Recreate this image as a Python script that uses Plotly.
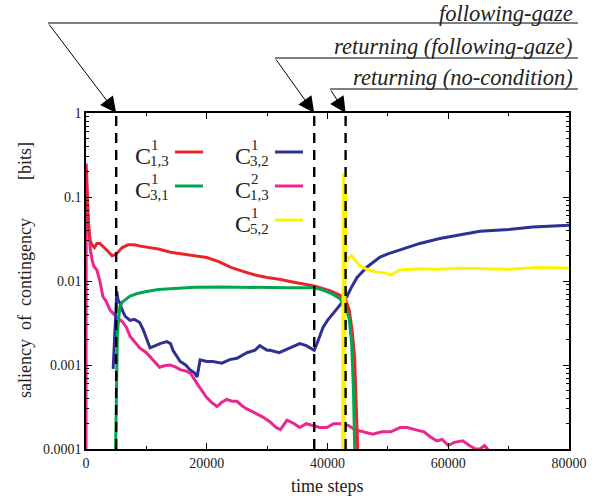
import plotly.graph_objects as go

# ---------------- data ----------------
red_x = [0, 200, 400, 700, 1000, 1400, 1800, 2300, 2800, 3300, 3800, 4300, 4800, 5300, 6000, 7000,
         8000, 9000, 10500, 12000, 14000, 16000, 18000, 20000, 22000, 24000, 26000, 28000, 30000,
         32000, 34000, 36000, 37800, 39000, 40500, 42000, 43000, 43600, 44100, 44500, 44800, 45000]
red_y = [0.22, 0.1, 0.045, 0.03, 0.027, 0.025, 0.028, 0.028, 0.026, 0.024, 0.022, 0.020, 0.0205, 0.022,
         0.025, 0.027, 0.027, 0.026, 0.025, 0.024, 0.022, 0.021, 0.020, 0.019, 0.017, 0.0145, 0.013,
         0.0118, 0.011, 0.0105, 0.0098, 0.0092, 0.0087, 0.0082, 0.0076, 0.0068, 0.006, 0.0045, 0.0025,
         0.0012, 0.0003, 0.0001]

green_x = [4900, 5000, 5100, 5200, 5400, 5600, 6000, 6500, 7300, 8500, 10000, 12000, 15000, 18000,
           22000, 26000, 30000, 34000, 37800, 39000, 40500, 42000, 43000, 43600, 44000, 44300, 44500]
green_y = [0.0001, 0.0004, 0.0012, 0.0024, 0.0035, 0.0049, 0.0056, 0.006, 0.0066, 0.0071, 0.0075,
           0.0079, 0.0082, 0.0084, 0.0085, 0.0084, 0.0083, 0.0083, 0.0083, 0.0079, 0.0072, 0.0062,
           0.005, 0.0035, 0.0018, 0.0005, 0.0001]

blue_x = [4500, 4700, 4900, 5100, 5300, 5600, 6000, 6500, 7300, 8000, 8900, 9500, 10100, 10600, 11500,
          12250, 13400, 14000, 14400, 15000, 15600, 16500, 17200, 18000, 18400, 18900, 20000, 21000,
          22500, 23800, 25000, 26650, 28000, 28800, 30000, 30500, 32000, 33800, 35400, 36500, 37800,
          38500, 39250, 40000, 40900, 42000, 43200, 44000, 44900, 46500, 48700, 50000, 52000, 55300,
          58600, 61900, 65250, 70000, 74000, 80000]
blue_y = [0.0009, 0.002, 0.004, 0.0075, 0.006, 0.0055, 0.0045, 0.0038, 0.0034, 0.0035, 0.0032, 0.0026,
          0.002, 0.0016, 0.0017, 0.0018, 0.0019, 0.0018, 0.0015, 0.0013, 0.0011, 0.001, 0.00088, 0.0008,
          0.00072, 0.00115, 0.0011, 0.0011, 0.00105, 0.00116, 0.0012, 0.0014, 0.0015, 0.0017, 0.0015,
          0.0015, 0.0014, 0.0016, 0.0018, 0.0017, 0.0015, 0.002, 0.0028, 0.0034, 0.0041, 0.0052, 0.0065,
          0.0085, 0.011, 0.0146, 0.0193, 0.021, 0.0234, 0.028, 0.032, 0.035, 0.039, 0.041, 0.044, 0.046]

pink_x = [0, 50, 150, 300, 500, 700, 1000, 1300, 1800, 2300, 2800, 3300, 4000, 4700, 5300, 6000, 6700,
          7300, 8000, 8900, 10000, 11100, 12200, 13000, 13900, 14800, 15600, 16500, 17300, 18400, 19200,
          20000, 20800, 21700, 22500, 23300, 24200, 25000, 25800, 26650, 27500, 28500, 29300, 30500,
          31500, 32200, 33300, 34500, 35400, 36500, 37600, 38700, 39900, 41000, 42400, 43500, 44500,
          46000, 47500, 49000, 50500, 52000, 53200, 54500, 56000, 57000, 58100, 59000, 60000, 61000,
          62400, 63500, 64500, 65250, 66000, 66500, 67000]
pink_y = [0.0001, 0.25, 0.15, 0.07, 0.04, 0.024, 0.018, 0.015, 0.0135, 0.01, 0.0065, 0.0058, 0.0045,
          0.004, 0.0036, 0.0033, 0.0028, 0.0022, 0.0019, 0.0016, 0.0014, 0.00116, 0.00094, 0.00098,
          0.001, 0.00095, 0.00088, 0.00085, 0.0008, 0.0006, 0.0005, 0.00041, 0.00036, 0.00032, 0.00036,
          0.00039, 0.00037, 0.00037, 0.00033, 0.0003, 0.00028, 0.00026, 0.00024, 0.00021, 0.00018,
          0.00017, 0.00022, 0.0002, 0.00018, 0.0002, 0.00019, 0.00018, 0.00018, 0.0002, 0.0002, 0.00019,
          0.00017, 0.00016, 0.00015, 0.00016, 0.00016, 0.00018, 0.00018, 0.00017, 0.00016, 0.00014,
          0.000125, 0.00013, 0.00011, 0.00012, 0.000125, 0.00011, 0.0001, 0.0001, 0.00011, 0.0001, 0.00009]

yellow_x = [42500, 42650, 42800, 42950, 43050, 43200, 43500, 44000, 44500, 45200, 46500, 48000, 49500,
            50500, 52000, 55000, 58000, 62000, 66000, 70000, 75000, 80000]
yellow_y = [0.0001, 0.19, 0.0001, 0.12, 0.02, 0.017, 0.019, 0.02, 0.018, 0.0155, 0.0138, 0.0128, 0.0125,
            0.0118, 0.0135, 0.014, 0.0138, 0.0142, 0.014, 0.0138, 0.0145, 0.0143]

series_sup = ["1", "1", "1", "2", "1"]
series_sub = ["1,3", "3,1", "3,2", "1,3", "5,2"]

event_steps = [5000, 37800, 43000]
event_labels = ["following-gaze", "returning (following-gaze)", "returning (no-condition)"]

x_ticks = [0, 20000, 40000, 60000, 80000]
y_ticks = [0.0001, 0.001, 0.01, 0.1, 1]
y_ticktext = ["0.0001", "0.001", "0.01", "0.1", "1"]

# ---------------- styling ----------------
RED, GREEN, BLUE, PINK, YELLOW = "#e8262a", "#00a651", "#2e3192", "#ec268f", "#fff200"
FONT = "Liberation Serif"
W, H = 606, 499
PL, PR, PT, PB = 86, 569, 113, 449  # pixel coordinates of the plot frame


def px(x):
    return (x - PL) / (PR - PL)


def py(y):
    return (PB - y) / (PB - PT)


fig = go.Figure()
traces = [
    (pink_x, pink_y, PINK),
    (blue_x, blue_y, BLUE),
    (red_x, red_y, RED),
    (green_x, green_y, GREEN),
    (yellow_x, yellow_y, YELLOW),
]
for xs, ys, c in traces:
    fig.add_trace(go.Scatter(x=xs, y=ys, mode="lines", line=dict(color=c, width=3),
                             showlegend=False, hoverinfo="skip"))

shapes = []
annotations = []

# dashed event lines
for s in event_steps:
    shapes.append(dict(type="line", xref="x", yref="paper", x0=s, x1=s, y0=0, y1=1,
                       line=dict(color="black", width=2.4, dash="10px,7px"), layer="above"))

# event labels with arrows
line_y = [23, 58, 89]
text_top = [0, 33, 64]
tail_x = [48, 275, 330]
right_x = 578
for s, lab, ly, tt, tx in zip(event_steps, event_labels, line_y, text_top, tail_x):
    shapes.append(dict(type="line", xref="paper", yref="paper", x0=px(tx), x1=px(right_x),
                       y0=py(ly), y1=py(ly), line=dict(color="black", width=1)))
    annotations.append(dict(xref="paper", yref="paper", x=px(right_x - 4), y=py(tt),
                            xanchor="right", yanchor="top", text="<i>" + lab + "</i>",
                            showarrow=False, borderpad=0,
                            font=dict(family=FONT, size=22.5, color="#222")))
    head_px = PL + s / 80000 * (PR - PL)
    annotations.append(dict(xref="x", yref="paper", x=s, y=1, text="", showarrow=True,
                            ax=tx - head_px, ay=ly - PT, arrowhead=2, arrowsize=3.2,
                            arrowwidth=1, arrowcolor="black", standoff=0))

# legend (two columns)
leg_colors = [RED, GREEN, BLUE, PINK, YELLOW]
leg_pos = [(133, 152), (133, 186), (233, 152), (233, 186), (233, 220)]
for c, sup, sub, (lx, ly) in zip(leg_colors, series_sup, series_sub, leg_pos):
    annotations.append(dict(xref="paper", yref="paper", x=px(lx), y=py(ly + 4), xanchor="left",
                            yanchor="middle", text="C", showarrow=False,
                            font=dict(family=FONT, size=24, color="#222")))
    annotations.append(dict(xref="paper", yref="paper", x=px(lx + 16), y=py(ly - 7), xanchor="left",
                            yanchor="middle", text=sup, showarrow=False,
                            font=dict(family=FONT, size=15, color="#222")))
    annotations.append(dict(xref="paper", yref="paper", x=px(lx + 15), y=py(ly + 9), xanchor="left",
                            yanchor="middle", text=sub, showarrow=False,
                            font=dict(family=FONT, size=15, color="#222")))
    shapes.append(dict(type="line", xref="paper", yref="paper", x0=px(lx + 42), x1=px(lx + 70),
                       y0=py(ly), y1=py(ly), line=dict(color=c, width=3)))

# axis titles
annotations.append(dict(xref="paper", yref="paper", x=px(327), y=py(486), xanchor="center",
                        yanchor="middle", text="time steps", showarrow=False,
                        font=dict(family=FONT, size=18, color="#222")))
annotations.append(dict(xref="paper", yref="paper", x=px(25), y=py(308), xanchor="center",
                        yanchor="middle", text="saliency  of  contingency", textangle=-90,
                        showarrow=False, font=dict(family=FONT, size=18, color="#222")))
annotations.append(dict(xref="paper", yref="paper", x=px(25), y=py(161), xanchor="center",
                        yanchor="middle", text="[bits]", textangle=-90,
                        showarrow=False, font=dict(family=FONT, size=18, color="#222")))

fig.update_layout(
    width=W, height=H,
    margin=dict(l=PL, r=W - PR, t=PT, b=H - PB, pad=0),
    paper_bgcolor="white", plot_bgcolor="white",
    shapes=shapes, annotations=annotations,
    font=dict(family=FONT, size=14, color="#222"),
)
fig.update_xaxes(range=[0, 80000], tickvals=x_ticks, ticktext=[str(v) for v in x_ticks],
                 ticks="inside", ticklen=6, tickcolor="black", showline=True, linecolor="black",
                 linewidth=1.5, mirror="ticks", showgrid=False, zeroline=False,
                 tickfont=dict(family=FONT, size=14, color="#222"),
                 minor=dict(ticks="inside", ticklen=3, dtick=10000, tickcolor="black", showgrid=False))
fig.update_yaxes(type="log", range=[-4, 0], tickvals=y_ticks, ticktext=y_ticktext,
                 ticks="inside", ticklen=6, tickcolor="black", showline=True, linecolor="black",
                 linewidth=1.5, mirror="ticks", showgrid=False, zeroline=False,
                 tickfont=dict(family=FONT, size=14, color="#222"),
                 minor=dict(ticks="inside", ticklen=3, dtick="D1", tickcolor="black", showgrid=False))

fig.write_html("out.html", config={"displayModeBar": False},
               post_script="document.body.style.margin='0px';")
